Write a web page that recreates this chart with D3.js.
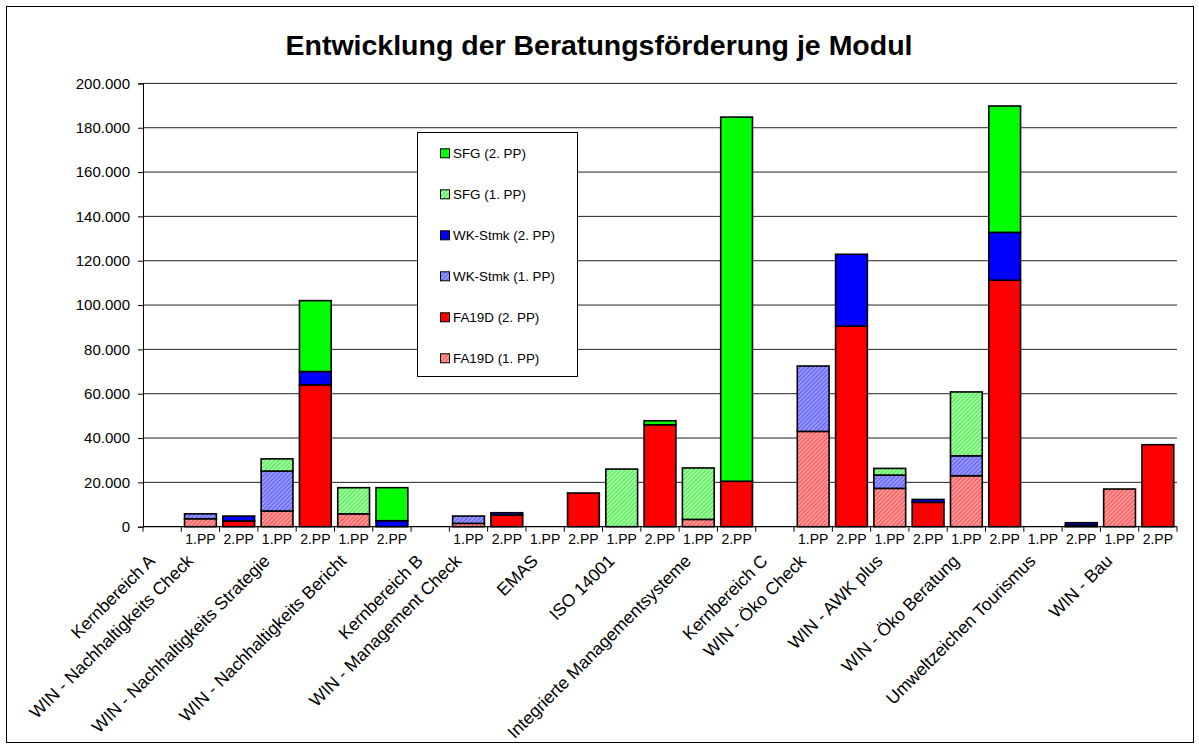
<!DOCTYPE html>
<html>
<head>
<meta charset="utf-8">
<script src="https://cdn.jsdelivr.net/npm/d3@7/dist/d3.min.js"></script>
<style>
  html, body { margin: 0; padding: 0; background: #fff; }
  svg { display: block; font-family: "Liberation Sans", Arial, sans-serif; }
</style>
</head>
<body>
<svg id="chart" width="1199" height="744"></svg>
<script>
// ---------------- DATA ----------------
const title = "Entwicklung der Beratungsförderung je Modul";

// category groups with their sub-slots
const groups = [
  "Kernbereich A",
  "WIN - Nachhaltigkeits Check",
  "WIN - Nachhaltigkeits Strategie",
  "WIN - Nachhaltigkeits Bericht",
  "Kernbereich B",
  "WIN - Management Check",
  "EMAS",
  "ISO 14001",
  "Integrierte Managementsysteme",
  "Kernbereich C",
  "WIN - Öko Check",
  "WIN - AWK plus",
  "WIN - Öko Beratung",
  "Umweltzeichen Tourismus",
  "WIN - Bau"
];
const groupSubs = [
  [""], ["1.PP","2.PP"], ["1.PP","2.PP"], ["1.PP","2.PP"],
  [""], ["1.PP","2.PP"], ["1.PP","2.PP"], ["1.PP","2.PP"], ["1.PP","2.PP"],
  [""], ["1.PP","2.PP"], ["1.PP","2.PP"], ["1.PP","2.PP"], ["1.PP","2.PP"], ["1.PP","2.PP"]
];

// series values per slot (27 slots, in order of groups/subs)
const fa19d1 = [0, 3600, 0, 7100, 0, 5800, 0, 0, 1500, 0, 0, 0, 0, 0, 3300, 0, 0, 43000, 0, 17300, 0, 23000, 0, 0, 0, 17000, 0];
const fa19d2 = [0, 0, 2600, 0, 64000, 0, 0, 0, 0, 5300, 0, 15200, 0, 46000, 0, 20500, 0, 0, 90500, 0, 11000, 0, 111200, 0, 700, 0, 37000];
const wk1    = [0, 2200, 0, 18000, 0, 0, 0, 0, 3300, 0, 0, 0, 0, 0, 0, 0, 0, 29500, 0, 6000, 0, 9000, 0, 0, 0, 0, 0];
const wk2    = [0, 0, 2200, 0, 6000, 0, 2700, 0, 0, 1000, 0, 0, 0, 0, 0, 0, 0, 0, 32400, 0, 1300, 0, 21600, 0, 1100, 0, 0];
const sfg1   = [0, 0, 0, 5500, 0, 11800, 0, 0, 0, 0, 0, 0, 26000, 0, 23200, 0, 0, 0, 0, 3000, 0, 28800, 0, 0, 0, 0, 0];
const sfg2   = [0, 0, 0, 0, 32000, 0, 14900, 0, 0, 0, 0, 0, 0, 1800, 0, 164300, 0, 0, 0, 0, 0, 0, 57000, 0, 0, 0, 0];

const seriesNames = ["FA19D (1. PP)", "FA19D (2. PP)", "WK-Stmk (1. PP)", "WK-Stmk (2. PP)", "SFG (1. PP)", "SFG (2. PP)"];
const seriesValues = [fa19d1, fa19d2, wk1, wk2, sfg1, sfg2];
const yTicks = [0, 20000, 40000, 60000, 80000, 100000, 120000, 140000, 160000, 180000, 200000];

// ---------------- LAYOUT / STYLE ----------------
const seriesFill = ["url(#pFA1)", "#ff0000", "url(#pWK1)", "#0000ff", "url(#pSFG1)", "#00ff00"];
const plot = { left: 143, right: 1177, top: 83.4, bottom: 526.7 };

const svg = d3.select("#chart");

// patterns
const defs = svg.append("defs");
function hatch(id, base, line) {
  const p = defs.append("pattern").attr("id", id).attr("patternUnits", "userSpaceOnUse")
    .attr("width", 3).attr("height", 3).attr("patternTransform", "rotate(45)");
  p.append("rect").attr("width", 3).attr("height", 3).attr("fill", base);
  p.append("rect").attr("width", 1.2).attr("height", 3).attr("fill", line);
}
hatch("pFA1", "#ffa0a0", "#ff5050");
hatch("pWK1", "#a0a0ff", "#5a5aff");
hatch("pSFG1", "#a8ffa8", "#50e850");

// outer border
svg.append("rect").attr("x", 6.5).attr("y", 6.5).attr("width", 1187).attr("height", 736)
  .attr("fill", "#fff").attr("stroke", "#000").attr("stroke-width", 1);

// title
svg.append("text").attr("x", 599).attr("y", 55).attr("text-anchor", "middle")
  .attr("font-size", 28.5).attr("font-weight", "bold").text(title);

// build slot list
const slots = [];
groups.forEach((g, gi) => groupSubs[gi].forEach((s, si) => slots.push({ g: gi, sub: s, idx: slots.length })));
const nSlots = slots.length;

const x = d3.scaleBand().domain(d3.range(nSlots)).range([plot.left, plot.right])
  .paddingInner(0.17).paddingOuter(0.085);
const step = x.step();
const slotStart = i => plot.left + i * step;

const y = d3.scaleLinear().domain([0, 200000]).range([plot.bottom, plot.top]);

// gridlines
svg.append("g").selectAll("line").data(yTicks.filter(t => t > 0)).join("line")
  .attr("x1", plot.left).attr("x2", plot.right)
  .attr("y1", d => y(d)).attr("y2", d => y(d))
  .attr("stroke", "#222").attr("stroke-width", 1);

// y axis
const yAxis = d3.axisLeft(y).tickValues(yTicks).tickSize(5).tickPadding(8)
  .tickFormat(d => d3.format(",")(d).replace(/,/g, "."));
const ya = svg.append("g").attr("transform", `translate(${plot.left},0)`).call(yAxis);
ya.select(".domain").attr("stroke", "#000");
ya.selectAll(".tick line").attr("stroke", "#000");
ya.selectAll("text").attr("font-size", 15).attr("font-family", "Liberation Sans, Arial, sans-serif").attr("fill", "#000");

// stacked bars
const table = slots.map((s, i) => {
  const o = { idx: i };
  seriesNames.forEach((n, k) => o[n] = seriesValues[k][i]);
  return o;
});
const stack = d3.stack().keys(seriesNames)(table);
const barG = svg.append("g");
stack.forEach((layer, k) => {
  barG.append("g").selectAll("rect")
    .data(layer.filter(d => d[1] - d[0] > 0)).join("rect")
    .attr("x", d => x(d.data.idx)).attr("width", x.bandwidth())
    .attr("y", d => y(d[1])).attr("height", d => y(d[0]) - y(d[1]))
    .attr("fill", seriesFill[k]).attr("stroke", "#000").attr("stroke-width", 1.6);
});

// x axis line and ticks
const xa = svg.append("g");
xa.append("line").attr("x1", plot.left).attr("x2", plot.right).attr("y1", plot.bottom).attr("y2", plot.bottom)
  .attr("stroke", "#000").attr("stroke-width", 1.3);
xa.selectAll("line.tk").data(d3.range(nSlots + 1)).join("line").attr("class", "tk")
  .attr("x1", d => slotStart(d)).attr("x2", d => slotStart(d))
  .attr("y1", plot.bottom).attr("y2", plot.bottom + 5).attr("stroke", "#000");

// sub labels
xa.selectAll("text.sub").data(slots.filter(s => s.sub)).join("text").attr("class", "sub")
  .attr("x", d => x(d.idx) + x.bandwidth() / 2).attr("y", plot.bottom + 17)
  .attr("text-anchor", "middle").attr("font-size", 14).text(d => d.sub);

// group labels (rotated)
let acc = 0;
const groupInfo = groups.map((g, gi) => { const o = { name: g, start: acc, n: groupSubs[gi].length }; acc += o.n; return o; });
xa.selectAll("text.grp").data(groupInfo).join("text").attr("class", "grp")
  .attr("transform", d => `translate(${slotStart(d.start) + 13},${562}) rotate(-45)`)
  .attr("text-anchor", "end").attr("font-size", 17.5).text(d => d.name);

// legend
const lg = svg.append("g");
lg.append("rect").attr("x", 417.5).attr("y", 132.5).attr("width", 160).attr("height", 244)
  .attr("fill", "#fff").attr("stroke", "#000").attr("stroke-width", 1);
const legendOrder = [5, 4, 3, 2, 1, 0];
const legendY = [153.3, 194.3, 235.3, 276.3, 317.3, 358.3];
legendOrder.forEach((k, r) => {
  lg.append("rect").attr("x", 440.5).attr("y", legendY[r] - 4.5).attr("width", 9).attr("height", 9)
    .attr("fill", seriesFill[k]).attr("stroke", "#000").attr("stroke-width", 1);
  lg.append("text").attr("x", 453).attr("y", legendY[r] + 5).attr("font-size", 13.4).text(seriesNames[k]);
});
</script>
</body>
</html>
